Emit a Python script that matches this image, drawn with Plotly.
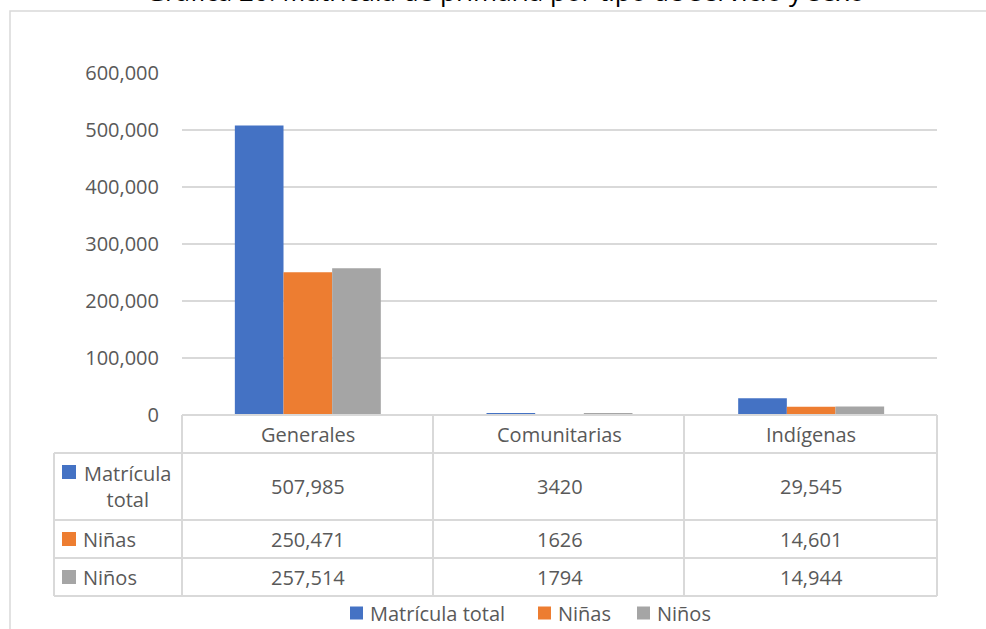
import plotly.graph_objects as go

# ---- data ----
categories = ["Generales", "Comunitarias", "Indígenas"]
series_names = ["Matrícula total", "Niñas", "Niños"]
matricula_total = [507985, 3420, 29545]
ninas = [250471, 1626, 14601]
ninos = [257514, 1794, 14944]
y_ticks = [0, 100000, 200000, 300000, 400000, 500000, 600000]
y_tick_labels = ["0", "100,000", "200,000", "300,000", "400,000", "500,000", "600,000"]
title_text = "Gráfica 20. Matrícula de primaria por tipo de servicio y sexo"

colors = ["#4472C4", "#ED7D31", "#A5A5A5"]
series_values = [matricula_total, ninas, ninos]
row_labels = ["Matrícula<br>total", "Niñas", "Niños"]

W, H = 986, 629
L, R, T, B = 182, 937, 73, 415  # plot area in pixels
FONT = "Open Sans"
TXT = "#595959"
GRID = "#D9D9D9"


def px(x):
    return (x - L) / (R - L)


def py(y):
    return (B - y) / (B - T)


def fmt(v):
    return f"{v:,}" if v >= 10000 else str(v)


fig = go.Figure()
for name, vals, col in zip(series_names, series_values, colors):
    fig.add_trace(go.Bar(x=categories, y=vals, name=name, marker=dict(color=col, line=dict(width=0)),
                         showlegend=False))

shapes = []
ann = []

# outer frame
shapes.append(dict(type="rect", xref="paper", yref="paper", x0=px(10), x1=px(1100), y0=py(11), y1=py(800),
                   line=dict(color=GRID, width=1.5), fillcolor="rgba(0,0,0,0)", layer="below"))

# table lines
hl = dict(color=GRID, width=2)
shapes.append(dict(type="line", xref="paper", yref="paper", x0=px(182), x1=px(937), y0=py(415), y1=py(415), line=hl))
for yy in [453, 520, 558, 596]:
    shapes.append(dict(type="line", xref="paper", yref="paper", x0=px(54), x1=px(937), y0=py(yy), y1=py(yy), line=hl))
for xx in [182, 433, 684, 937]:
    shapes.append(dict(type="line", xref="paper", yref="paper", x0=px(xx), x1=px(xx), y0=py(415), y1=py(596), line=hl))
shapes.append(dict(type="line", xref="paper", yref="paper", x0=px(54), x1=px(54), y0=py(453), y1=py(596), line=hl))

# table header (categories)
for c in categories:
    ann.append(dict(x=c, y=py(434), xref="x", yref="paper", text=c, showarrow=False,
                    font=dict(family=FONT, size=20, color=TXT), xanchor="center", yanchor="middle"))

row_centers = [486.5, 539, 577]
for i, (lab, vals, col) in enumerate(zip(row_labels, series_values, colors)):
    yc = row_centers[i]
    sq_y = 472 if i == 0 else yc
    shapes.append(dict(type="rect", xref="paper", yref="paper", x0=px(62), x1=px(76), y0=py(sq_y - 7), y1=py(sq_y + 7),
                       line=dict(width=0), fillcolor=col))
    if i == 0:
        ann.append(dict(x=px(127), y=py(yc), xref="paper", yref="paper", text=lab, showarrow=False,
                        font=dict(family=FONT, size=20, color=TXT), xanchor="center", yanchor="middle", align="center"))
    else:
        ann.append(dict(x=px(81), y=py(yc), xref="paper", yref="paper", text=lab, showarrow=False,
                        font=dict(family=FONT, size=20, color=TXT), xanchor="left", yanchor="middle"))
    for c, v in zip(categories, vals):
        ann.append(dict(x=c, y=py(yc), xref="x", yref="paper", text=fmt(v), showarrow=False,
                        font=dict(family=FONT, size=20, color=TXT), xanchor="center", yanchor="middle"))

# legend drawn below the table
legend_x = [350, 538, 637]
for name, col, lx in zip(series_names, colors, legend_x):
    shapes.append(dict(type="rect", xref="paper", yref="paper", x0=px(lx), x1=px(lx + 13), y0=py(606.5), y1=py(619.5),
                       line=dict(width=0), fillcolor=col))
    ann.append(dict(x=px(lx + 18), y=py(613), xref="paper", yref="paper", text=name, showarrow=False,
                    font=dict(family=FONT, size=20, color=TXT), xanchor="left", yanchor="middle"))

# title (partly cut at top of page, as in the reference)
ann.append(dict(x=px(505), y=py(11), xref="paper", yref="paper", text=title_text, showarrow=False,
                font=dict(family=FONT, size=26, color="#000000"), xanchor="center", yanchor="bottom"))

fig.update_layout(
    width=W, height=H, autosize=False,
    margin=dict(l=L, r=W - R, t=T, b=H - B, pad=0),
    paper_bgcolor="white", plot_bgcolor="white",
    barmode="group", bargap=0.42, bargroupgap=0,
    font=dict(family=FONT, size=20, color=TXT),
    xaxis=dict(showticklabels=False, showgrid=False, zeroline=False, showline=False, ticks=""),
    yaxis=dict(range=[0, 600000], tickvals=y_ticks, ticktext=y_tick_labels, showgrid=True,
               gridcolor=GRID, gridwidth=1.5, zeroline=False, showline=False, ticks="",
               ticklabelstandoff=22, tickfont=dict(family=FONT, size=20, color=TXT)),
    showlegend=False,
    shapes=shapes, annotations=ann,
)

fig.write_html(
    "out.html",
    config={"displayModeBar": False},
    post_script="document.body.style.margin='0';document.body.style.overflow='hidden';",
)
